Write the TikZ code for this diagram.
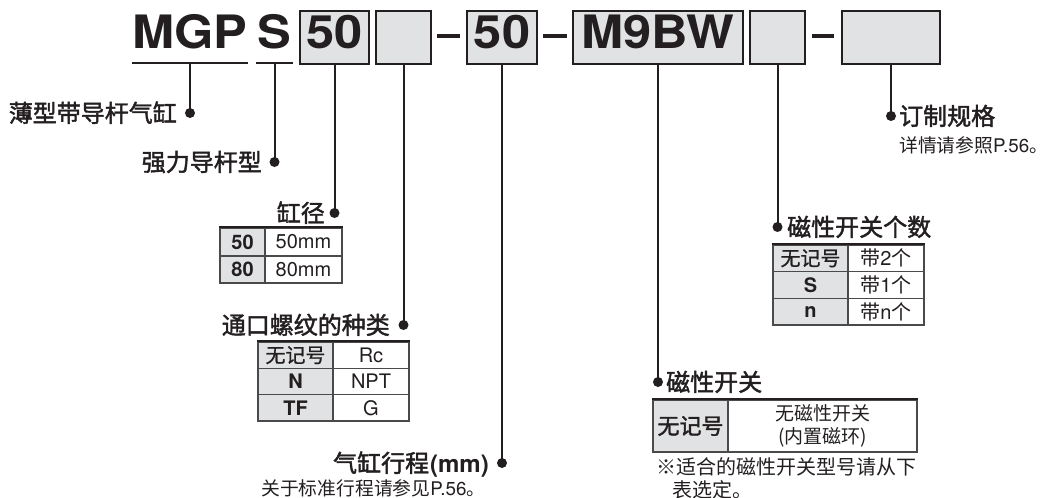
\documentclass[tikz,border=0pt]{standalone}
\usepackage{fontspec}
\usepackage{graphicx}
\setmainfont{TeX Gyre Heros}
\newfontfamily\cjk{Noto Sans CJK SC}
\newfontfamily\cjkm{Noto Sans CJK SC}[FakeBold=0.8]
\newfontfamily\cjkl{Noto Sans CJK SC}[FakeBold=1.8]
\definecolor{ink}{HTML}{231F20}
\definecolor{boxfill}{RGB}{225,226,227}
\definecolor{rulec}{HTML}{4A4A4A}
\newcommand{\setfs}[1]{\fontsize{#1}{#1}\selectfont}
\newcommand{\wide}[1]{\scalebox{1.1}[1]{#1}}
\begin{document}
\begin{tikzpicture}[x=1pt,y=-1pt,
  codebox/.style={draw=ink, line width=1.6pt, fill=boxfill, inner sep=0, minimum height=53pt},
  big/.style={inner sep=0, anchor=base, text=ink, font=\setfs{46}\bfseries},
  stem/.style={draw=ink, line width=2pt},
  dot/.style={circle, fill=ink, inner sep=0, minimum size=10pt},
  bar/.style={fill=ink, inner sep=0, minimum height=2.2pt},
  dashbar/.style={fill=ink, inner sep=0, minimum height=3.4pt},
  lbl/.style={inner sep=0, text=ink, font=\setfs{24}\cjkl},
  sub/.style={inner sep=0, text=ink, font=\setfs{18.8}\cjk},
  cell/.style={draw=rulec, line width=1.1pt, inner sep=0, text=ink, font=\setfs{20}},
  cellg/.style={cell, fill=boxfill},
  topline/.style={draw=ink, line width=2pt}
]
\useasboundingbox (0,0) rectangle (1047,498);

% code boxes
\node[codebox, minimum width=69pt]  (b1) at (334.5,37.5) {};
\node[codebox, minimum width=55pt]  (b2) at (403.5,37.5) {};
\node[codebox, minimum width=70pt]  (b3) at (502,37.5) {};
\node[codebox, minimum width=170pt] (b4) at (658,37.5) {};
\node[codebox, minimum width=55pt]  (b5) at (777.5,37.5) {};
\node[codebox, minimum width=98pt]  (b6) at (891,37.5) {};

% code text
\node[big] (mgp) at (190,48) {\wide{MGP}};
\node[big] (s)   at (274.5,48) {\wide{S}};
\node[big] (c50) at (334.5,48) {\wide{50}};
\node[big] (st50) at (502,48) {\wide{50}};
\node[big] (m9bw) at (658,48) {\wide{M9BW}};

% underlines and dashes
\node[bar, minimum width=116pt] (u1) at (190,63) {};
\node[bar, minimum width=37pt]  (u2) at (274.5,63) {};
\node[dashbar, minimum width=23pt] (h1) at (448.5,36) {};
\node[dashbar, minimum width=24pt] (h2) at (555,36) {};
\node[dashbar, minimum width=22pt] (h3) at (823,36) {};

% dots
\node[dot] (d1) at (190,113) {};
\node[dot] (d2) at (274.5,162) {};
\node[dot] (d3) at (334.5,213) {};
\node[dot] (d4) at (403.5,325) {};
\node[dot] (d5) at (502,463) {};
\node[dot] (d6) at (658,382) {};
\node[dot] (d7) at (777.5,227) {};
\node[dot] (d8) at (891,116) {};

% stems
\draw[stem] (u1.south) -- (d1.center);
\draw[stem] (u2.south) -- (d2.center);
\draw[stem] (b1.south) -- (d3.center);
\draw[stem] (b2.south) -- (d4.center);
\draw[stem] (b3.south) -- (d5.center);
\draw[stem] (b4.south) -- (d6.center);
\draw[stem] (b5.south) -- (d7.center);
\draw[stem] (b6.south) -- (d8.center);

% labels
\node[lbl, anchor=base east] (l1) at (177,122) {薄型带导杆气缸};
\node[lbl, anchor=base east] (l2) at (262,171) {强力导杆型};
\node[lbl, anchor=base east] (l3) at (325,222) {缸径};
\node[lbl, anchor=base east] (l4) at (390,334) {通口螺纹的种类};
\node[lbl, anchor=base east] (l5) at (489,472) {气缸行程\hspace{1pt}{\rmfamily\bfseries(mm)}};
\node[lbl, anchor=base west] (l6) at (666,391) {磁性开关};
\node[lbl, anchor=base west] (l7) at (787,236) {磁性开关个数};
\node[lbl, anchor=base west] (l8) at (899,125) {订制规格};

% sub texts
\node[sub, anchor=base west] (s8) at (899,152) {详情请参照{\rmfamily P.56}。};
\node[sub, anchor=base west] (s5) at (261,495) {关于标准行程请参见{\rmfamily P.56}。};
\node[sub, font=\setfs{20}\cjk, anchor=base west] (n1) at (656,474) {※适合的磁性开关型号请从下};
\node[sub, font=\setfs{20}\cjk, anchor=base west] (n2) at (672,497) {表选定。};

% table 1: bore
\node[cellg, minimum width=45pt, minimum height=28pt] (t1a) at (242.5,242) {\bfseries 50};
\node[cell,  minimum width=77pt, minimum height=28pt] (t1b) at (303.5,242) {50mm};
\node[cellg, minimum width=45pt, minimum height=27pt] (t1c) at (242.5,269.5) {\bfseries 80};
\node[cell,  minimum width=77pt, minimum height=27pt] (t1d) at (303.5,269.5) {80mm};
\draw[topline] (t1a.north west) -- (t1b.north east);

% table 2: port thread
\node[cellg, minimum width=75pt, minimum height=26.33pt] (t2a) at (295.5,355.2) {\cjkm 无记号};
\node[cell,  minimum width=76pt, minimum height=26.33pt] (t2b) at (371,355.2) {Rc};
\node[cellg, minimum width=75pt, minimum height=26.33pt] (t2c) at (295.5,381.5) {\bfseries N};
\node[cell,  minimum width=76pt, minimum height=26.33pt] (t2d) at (371,381.5) {NPT};
\node[cellg, minimum width=75pt, minimum height=26.33pt] (t2e) at (295.5,407.8) {\bfseries TF};
\node[cell,  minimum width=76pt, minimum height=26.33pt] (t2f) at (371,407.8) {G};
\draw[topline] (t2a.north west) -- (t2b.north east);

% table 3: number of switches
\node[cellg, minimum width=75pt, minimum height=26.67pt] (t3a) at (810.5,258.3) {\cjkm 无记号};
\node[cell,  minimum width=76pt, minimum height=26.67pt] (t3b) at (886,258.3) {{\cjk 带}2{\cjk 个}};
\node[cellg, minimum width=75pt, minimum height=26.67pt] (t3c) at (810.5,285) {\bfseries S};
\node[cell,  minimum width=76pt, minimum height=26.67pt] (t3d) at (886,285) {{\cjk 带}1{\cjk 个}};
\node[cellg, minimum width=75pt, minimum height=26.67pt] (t3e) at (810.5,311.7) {\bfseries n};
\node[cell,  minimum width=76pt, minimum height=26.67pt] (t3f) at (886,311.7) {{\cjk 带}n{\cjk 个}};
\draw[topline] (t3a.north west) -- (t3b.north east);

% table 4: switch
\node[cellg, minimum width=75pt, minimum height=52pt, font=\setfs{22}\cjkl] (t4a) at (690.5,426) {无记号};
\node[cell,  minimum width=189pt, minimum height=52pt, align=center, font=\fontsize{19}{23}\selectfont\cjk] (t4b) at (822.5,426) {无磁性开关\\(内置磁环)};
\draw[topline] (t4a.north west) -- (t4b.north east);
\end{tikzpicture}
\end{document}
